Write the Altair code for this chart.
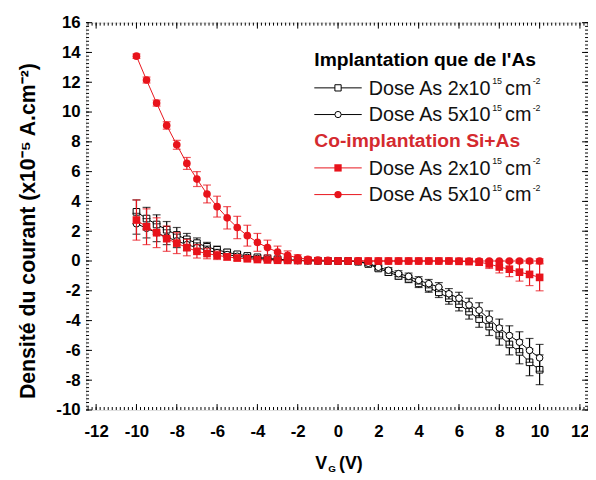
import altair as alt
import numpy as np
import pandas as pd

# ---------------- data ----------------
vg = [-10, -9.5, -9, -8.5, -8, -7.5, -7, -6.5, -6, -5.5, -5, -4.5, -4, -3.5, -3, -2.5, -2, -1.5, -1, -0.5,
      0, 0.5, 1, 1.5, 2, 2.5, 3, 3.5, 4, 4.5, 5, 5.5, 6, 6.5, 7, 7.5, 8, 8.5, 9, 9.5, 10]

blk_sq = [3.3, 2.85, 2.45, 2.1, 1.75, 1.45, 1.2, 0.95, 0.75, 0.58, 0.45, 0.34, 0.25, 0.18, 0.12, 0.08, 0.05, 0.03, 0.02, 0.01,
          0.0, 0.0, -0.05, -0.2, -0.5, -0.75, -1.0, -1.2, -1.5, -1.8, -2.1, -2.5, -2.9, -3.4, -3.9, -4.4, -5.0, -5.6, -6.1, -6.8, -7.3]
blk_sq_err = [0.8, 0.75, 0.65, 0.55, 0.5, 0.4, 0.35, 0.3, 0.25, 0.2, 0.15, 0.12, 0.1, 0.08, 0.06, 0.05, 0.04, 0.03, 0.02, 0.02,
              0.02, 0.02, 0.05, 0.1, 0.15, 0.2, 0.22, 0.25, 0.28, 0.3, 0.35, 0.4, 0.45, 0.5, 0.55, 0.6, 0.65, 0.7, 0.8, 0.9, 1.0]

blk_ci = [2.5, 2.2, 1.9, 1.6, 1.35, 1.1, 0.9, 0.72, 0.56, 0.43, 0.32, 0.24, 0.17, 0.12, 0.08, 0.05, 0.03, 0.02, 0.01, 0.0,
          0.0, 0.0, -0.03, -0.15, -0.42, -0.62, -0.85, -1.03, -1.3, -1.52, -1.75, -2.2, -2.5, -2.95, -3.3, -3.9, -4.5, -5.0, -5.45, -6.0, -6.5]
blk_ci_err = [0.7, 0.65, 0.6, 0.5, 0.45, 0.4, 0.32, 0.28, 0.22, 0.18, 0.14, 0.11, 0.09, 0.07, 0.05, 0.04, 0.03, 0.02, 0.02, 0.02,
              0.02, 0.02, 0.05, 0.1, 0.15, 0.18, 0.2, 0.22, 0.25, 0.28, 0.3, 0.35, 0.4, 0.45, 0.5, 0.55, 0.6, 0.65, 0.7, 0.8, 0.9]

red_sq = [2.75, 2.3, 1.9, 1.5, 1.2, 0.9, 0.65, 0.5, 0.38, 0.28, 0.2, 0.15, 0.1, 0.07, 0.05, 0.04, 0.03, 0.02, 0.01, 0.0,
          0.0, 0.0, 0.0, 0.0, 0.0, 0.0, 0.0, 0.0, 0.0, 0.0, 0.0, 0.0, -0.02, -0.04, -0.08, -0.2, -0.4, -0.55, -0.75, -0.9, -1.1]
red_sq_err = [1.35, 1.2, 1.0, 0.85, 0.7, 0.55, 0.45, 0.35, 0.28, 0.22, 0.18, 0.14, 0.1, 0.08, 0.06, 0.05, 0.04, 0.03, 0.03, 0.02,
              0.02, 0.02, 0.02, 0.02, 0.02, 0.02, 0.02, 0.02, 0.02, 0.02, 0.03, 0.04, 0.05, 0.1, 0.2, 0.3, 0.4, 0.5, 0.6, 0.75, 0.9]

red_ci = [13.75, 12.15, 10.6, 9.1, 7.8, 6.55, 5.5, 4.5, 3.65, 2.9, 2.25, 1.7, 1.25, 0.9, 0.6, 0.38, 0.22, 0.12, 0.07, 0.04,
          0.02, 0.01, 0.01, 0.0, 0.0, 0.0, 0.0, 0.0, 0.0, 0.0, 0.0, 0.0, 0.0, 0.0, 0.0, 0.0, 0.0, 0.0, 0.0, 0.0, 0.0]
red_ci_err = [0.15, 0.2, 0.2, 0.25, 0.3, 0.4, 0.5, 0.6, 0.7, 0.75, 0.75, 0.7, 0.6, 0.5, 0.4, 0.3, 0.2, 0.15, 0.1, 0.08,
              0.05, 0.05, 0.05, 0.05, 0.05, 0.05, 0.05, 0.05, 0.05, 0.05, 0.05, 0.05, 0.05, 0.05, 0.05, 0.05, 0.05, 0.08, 0.1, 0.12, 0.15]

x_tick_labels = [-12, -10, -8, -6, -4, -2, 0, 2, 4, 6, 8, 10, 12]
y_tick_labels = [-10, -8, -6, -4, -2, 0, 2, 4, 6, 8, 10, 12, 14, 16]

heading1 = "Implantation que de l'As"
heading2 = "Co-implantation Si+As"
lab_2 = "Dose As 2x10"
lab_5 = "Dose As 5x10"
sup_exp = "15"
unit = "cm"
sup_unit = "-2"
y_title = "Densit\u00e9 du courant (x10\u207b\u2075 A.cm\u207b\u00b2)"

RED = "#e8131b"
RED_TXT = "#d42a2f"
BLK = "#000000"
FONT = "Liberation Sans"

series = [
    ("bsq", blk_sq, blk_sq_err, "square", BLK, False),
    ("bci", blk_ci, blk_ci_err, "circle", BLK, False),
    ("rsq", red_sq, red_sq_err, "square", RED, True),
    ("rci", red_ci, red_ci_err, "circle", RED, True),
]
for _, ys_, es_, *_ in series:
    assert len(ys_) == len(vg) and len(es_) == len(vg)

W, H = 508, 392
xscale = alt.Scale(domain=[-12.5, 12.4], nice=False, zero=False)
yscale = alt.Scale(domain=[-10, 16], nice=False, zero=False)

xaxis = alt.Axis(values=x_tick_labels, ticks=False, domain=False, grid=False, title=None,
                 labelFont=FONT, labelFontWeight="bold", labelFontSize=17, labelColor="black",
                 labelPadding=14, labelFlush=False, labelOverlap=False,
                 labelExpr="'' + datum.value")
yaxis = alt.Axis(values=y_tick_labels, ticks=False, domain=False, grid=False, title=None,
                 labelFont=FONT, labelFontWeight="bold", labelFontSize=17, labelColor="black",
                 labelPadding=6, labelFlush=False, labelOverlap=False,
                 labelExpr="'' + datum.value")


def X(field):
    return alt.X(field, scale=xscale, axis=xaxis, title=None)


def Y(field):
    return alt.Y(field, scale=yscale, axis=yaxis, title=None)


layers = []

# inward ticks on all four sides
x_minor = pd.DataFrame({"v": np.round(np.arange(-12.4, 12.41, 0.2), 2)})
y_minor = pd.DataFrame({"v": np.arange(-10, 16.01, 0.25)})
x_major = pd.DataFrame({"v": x_tick_labels})
y_major = pd.DataFrame({"v": y_tick_labels})
for dfm, ln in ((x_minor, 3), (x_major, 6)):
    layers.append(alt.Chart(dfm).mark_rule(color="black", strokeWidth=1).encode(
        x=X("v:Q"), y=alt.value(H), y2=alt.value(H - ln)))
    layers.append(alt.Chart(dfm).mark_rule(color="black", strokeWidth=1).encode(
        x=X("v:Q"), y=alt.value(0), y2=alt.value(ln)))
for dfm, ln in ((y_minor, 3), (y_major, 6)):
    layers.append(alt.Chart(dfm).mark_rule(color="black", strokeWidth=1).encode(
        y=Y("v:Q"), x=alt.value(0), x2=alt.value(ln)))
    layers.append(alt.Chart(dfm).mark_rule(color="black", strokeWidth=1).encode(
        y=Y("v:Q"), x=alt.value(W), x2=alt.value(W - ln)))

# data series
for name, ys_, es_, shape, color, filled in series:
    d = pd.DataFrame({"x": vg, "y": ys_,
                      "lo": [a - b for a, b in zip(ys_, es_)],
                      "hi": [a + b for a, b in zip(ys_, es_)]})
    b = alt.Chart(d)
    layers.append(b.mark_line(color=color, strokeWidth=1).encode(x=X("x:Q"), y=Y("y:Q")))
    layers.append(b.mark_errorbar(ticks={"size": 8}, color=color, thickness=1.2).encode(
        x=X("x:Q"), y=Y("lo:Q"), y2="hi:Q"))
    if filled:
        pt = b.mark_point(shape=shape, filled=True, color=color, size=60, opacity=1)
    else:
        pt = b.mark_point(shape=shape, filled=True, fill="white", stroke=color, strokeWidth=1,
                          size=45, opacity=1)
    layers.append(pt.encode(x=X("x:Q"), y=Y("y:Q")))

# legend (built by hand, positions in pixels)
one = pd.DataFrame({"k": [0]})
LX = 231


def txt(text, x, y, size, color="black", weight="normal", align="left", baseline="middle", angle=0):
    kw = dict(text=text, align=align, baseline=baseline, font=FONT, fontWeight=weight,
              fontSize=size, color=color)
    if angle:
        kw["angle"] = angle
    return alt.Chart(one).mark_text(**kw).encode(x=alt.value(x), y=alt.value(y))


legend_rows = [
    ("head", heading1, BLK, 38),
    ("entry", lab_2, BLK, 66, "square", False),
    ("entry", lab_5, BLK, 93, "circle", False),
    ("head", heading2, RED_TXT, 120),
    ("entry", lab_2, RED, 147, "square", True),
    ("entry", lab_5, RED, 174, "circle", True),
]
for row in legend_rows:
    if row[0] == "head":
        _, t, col, yy = row
        layers.append(txt(t, LX, yy, 19.5, color=col, weight="bold"))
    else:
        _, t, col, yy, shp, fil = row
        layers.append(alt.Chart(one).mark_rule(color=col, strokeWidth=1)
                      .encode(x=alt.value(LX), x2=alt.value(LX + 48), y=alt.value(yy)))
        if fil:
            m = alt.Chart(one).mark_point(shape=shp, filled=True, color=col, size=55, opacity=1)
        else:
            m = alt.Chart(one).mark_point(shape=shp, filled=True, fill="white", stroke=col,
                                          strokeWidth=1, size=40, opacity=1)
        layers.append(m.encode(x=alt.value(LX + 24), y=alt.value(yy)))
        layers.append(txt(t, LX + 55, yy + 1, 20, color="#111111"))
        layers.append(txt(sup_exp, LX + 180, yy - 7, 9, color="#111111"))
        layers.append(txt(unit, LX + 193, yy + 1, 20, color="#111111"))
        layers.append(txt(sup_unit, LX + 221, yy - 7, 9, color="#111111"))

# axis titles
layers.append(txt(y_title, -58, 211, 21.5, weight="bold", align="center", angle=270))
layers.append(txt("V", 232, H + 60, 18, weight="bold", baseline="alphabetic"))
layers.append(txt("G", 245, H + 63, 10, weight="bold", baseline="alphabetic"))
layers.append(txt("(V)", 256, H + 60, 18, weight="bold", baseline="alphabetic"))

chart = alt.layer(*layers).properties(
    width=W, height=H,
    autosize=alt.AutoSizeParams(type="none"),
    padding={"left": 79, "top": 12, "right": 0, "bottom": 65},
).configure_view(stroke="black", strokeWidth=1.5).configure(background="white")

chart.save("out.html", embed_options={"renderer": "svg", "actions": False})
